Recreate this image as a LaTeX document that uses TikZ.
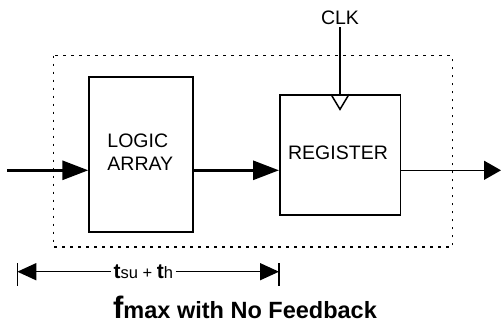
\documentclass[tikz,border=0pt]{standalone}
\usepackage{fontspec}
\setmainfont{Liberation Sans}
\usetikzlibrary{arrows.meta}
\tikzset{
  block/.style={draw, line width=1.5pt, inner sep=0pt},
  bigtip/.style={-{Triangle[length=26pt,width=19pt]}},
  dimtip/.style={-{Triangle[length=19pt,width=17pt]}}
}
\begin{document}
\begin{tikzpicture}[x=1pt, y=-1pt, line width=1.5pt,
    font=\fontsize{19.5}{23}\selectfont]
  \useasboundingbox (0,0) rectangle (501,324);
  \draw[dash pattern=on 2.5pt off 5.5pt, line width=1.5pt] (53.3,55.7) rectangle (452.3,247);
  \draw
    (88.3,76.3) node[block, anchor=north west, minimum width=104pt, minimum height=155pt] (logic){}
    (279,94.3) node[block, anchor=north west, minimum width=120.7pt, minimum height=119.7pt] (reg){}
    (140.3,152.5) node[align=left, inner sep=0pt] (logictxt){LOGIC\\ARRAY}
    (338,153) node[inner sep=0pt] (regtxt){REGISTER}
    (340,17.3) node[inner sep=0pt] (clk){CLK}
    (143.3,272) node[inner sep=2pt] (tsu){{\fontsize{21}{22}\bfseries t}{\fontsize{16.5}{20}\selectfont su + }{\fontsize{21}{22}\bfseries t}{\fontsize{16.5}{20}\selectfont h}}
    (245,318.3) node[inner sep=0pt, anchor=base] (title){\bfseries{\fontsize{31}{32}\selectfont f}\fontsize{23.5}{26}\selectfont max with No Feedback};
  \coordinate (in) at (7,170.3);
  \coordinate (out) at (501,170.3);
  \coordinate (dl) at (17.3,271.7);
  \coordinate (dr) at (279,271.7);
  \begin{scope}[line width=3pt]
    \draw[bigtip] (in) -- (logic.west |- in);
    \draw[bigtip] (logic.east |- in) -- (reg.west |- in);
  \end{scope}
  \draw[-{Triangle[length=17pt,width=19pt]}] (reg.east |- out) -- (out);
  \draw (clk) ++(0,10) -- (reg.north -| clk);
  \draw (331,94.3) -- (340,109.3) -- (349,94.3);
  \draw (17.3,263) -- (17.3,286);
  \draw (279,263) -- (279,286);
  \draw[dimtip] (tsu.west |- dl) -- (dl);
  \draw[dimtip] (tsu.east |- dr) -- (dr);
\end{tikzpicture}
\end{document}
